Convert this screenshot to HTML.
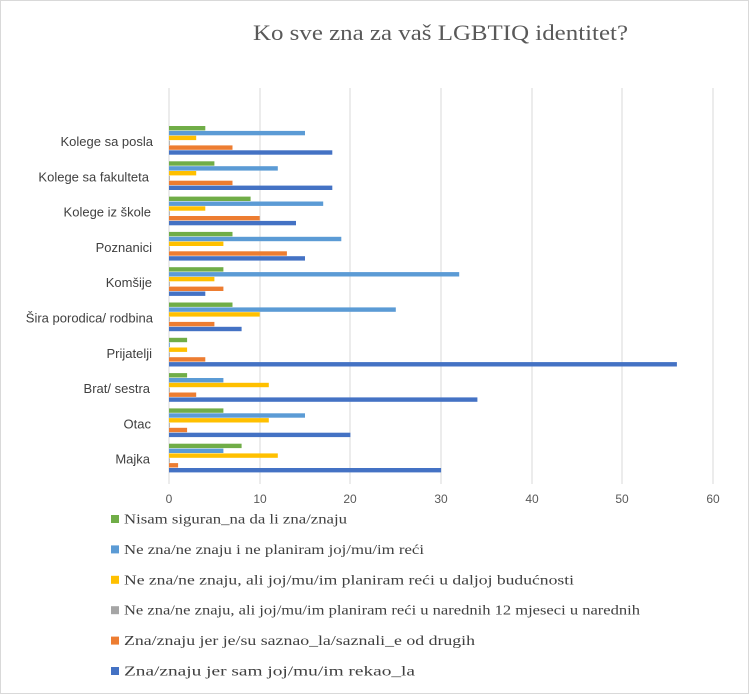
<!DOCTYPE html>
<html><head><meta charset="utf-8"><style>
body{margin:0;background:#fff}
svg{display:block;font-family:"Liberation Serif",serif}
.s{font-family:"Liberation Sans",sans-serif}
.g{fill:#70ad47}.b{fill:#5b9bd5}.y{fill:#ffc000}.a{fill:#a5a5a5}.o{fill:#ed7d31}.d{fill:#4472c4}
</style></head><body>
<svg width="749" height="694" xmlns="http://www.w3.org/2000/svg">
<rect x="0.5" y="0.5" width="748" height="693" fill="#fff" stroke="#d9d9d9"/>
<text x="253" y="40" font-size="22" fill="#595959" textLength="375" lengthAdjust="spacingAndGlyphs">Ko sve zna za vaš LGBTIQ identitet?</text>
<g stroke="#d9d9d9" stroke-width="1">
<line x1="169" y1="88" x2="169" y2="484"/><line x1="260" y1="88" x2="260" y2="484"/>
<line x1="350" y1="88" x2="350" y2="484"/><line x1="441" y1="88" x2="441" y2="484"/>
<line x1="532" y1="88" x2="532" y2="484"/><line x1="622" y1="88" x2="622" y2="484"/>
<line x1="713" y1="88" x2="713" y2="484"/>
</g>
<g class="s" font-size="12" fill="#595959" text-anchor="middle">
<text x="169" y="503">0</text><text x="260" y="503">10</text><text x="350" y="503">20</text>
<text x="441" y="503">30</text><text x="532" y="503">40</text><text x="622" y="503">50</text><text x="713" y="503">60</text>
</g>
<g>
<rect class="g" x="169" y="126" width="36.3" height="4.4"/><rect class="b" x="169" y="130.9" width="136" height="4.4"/><rect class="y" x="169" y="135.7" width="27.2" height="4.4"/><rect class="a" x="169" y="140.6" width="0.8" height="4.4"/><rect class="o" x="169" y="145.4" width="63.5" height="4.4"/><rect class="d" x="169" y="150.3" width="163.3" height="4.4"/>
<rect class="g" x="169" y="161.3" width="45.4" height="4.4"/><rect class="b" x="169" y="166.2" width="108.8" height="4.4"/><rect class="y" x="169" y="171" width="27.2" height="4.4"/><rect class="a" x="169" y="175.9" width="0.8" height="4.4"/><rect class="o" x="169" y="180.7" width="63.5" height="4.4"/><rect class="d" x="169" y="185.6" width="163.3" height="4.4"/>
<rect class="g" x="169" y="196.6" width="81.6" height="4.4"/><rect class="b" x="169" y="201.5" width="154.2" height="4.4"/><rect class="y" x="169" y="206.3" width="36.3" height="4.4"/><rect class="a" x="169" y="211.2" width="0.8" height="4.4"/><rect class="o" x="169" y="216" width="90.7" height="4.4"/><rect class="d" x="169" y="220.9" width="127" height="4.4"/>
<rect class="g" x="169" y="231.9" width="63.5" height="4.4"/><rect class="b" x="169" y="236.8" width="172.3" height="4.4"/><rect class="y" x="169" y="241.6" width="54.4" height="4.4"/><rect class="a" x="169" y="246.5" width="0.8" height="4.4"/><rect class="o" x="169" y="251.3" width="117.9" height="4.4"/><rect class="d" x="169" y="256.2" width="136" height="4.4"/>
<rect class="g" x="169" y="267.2" width="54.4" height="4.4"/><rect class="b" x="169" y="272.1" width="290.2" height="4.4"/><rect class="y" x="169" y="276.9" width="45.4" height="4.4"/><rect class="a" x="169" y="281.8" width="0.8" height="4.4"/><rect class="o" x="169" y="286.6" width="54.4" height="4.4"/><rect class="d" x="169" y="291.5" width="36.3" height="4.4"/>
<rect class="g" x="169" y="302.5" width="63.5" height="4.4"/><rect class="b" x="169" y="307.4" width="226.8" height="4.4"/><rect class="y" x="169" y="312.2" width="90.7" height="4.4"/><rect class="a" x="169" y="317.1" width="0.8" height="4.4"/><rect class="o" x="169" y="321.9" width="45.4" height="4.4"/><rect class="d" x="169" y="326.8" width="72.6" height="4.4"/>
<rect class="g" x="169" y="337.8" width="18.1" height="4.4"/><rect class="b" x="169" y="342.7" width="0.8" height="4.4"/><rect class="y" x="169" y="347.5" width="18.1" height="4.4"/><rect class="a" x="169" y="352.4" width="0.8" height="4.4"/><rect class="o" x="169" y="357.2" width="36.3" height="4.4"/><rect class="d" x="169" y="362.1" width="507.9" height="4.4"/>
<rect class="g" x="169" y="373.1" width="18.1" height="4.4"/><rect class="b" x="169" y="378" width="54.4" height="4.4"/><rect class="y" x="169" y="382.8" width="99.8" height="4.4"/><rect class="a" x="169" y="387.7" width="0.8" height="4.4"/><rect class="o" x="169" y="392.5" width="27.2" height="4.4"/><rect class="d" x="169" y="397.4" width="308.4" height="4.4"/>
<rect class="g" x="169" y="408.4" width="54.4" height="4.4"/><rect class="b" x="169" y="413.3" width="136" height="4.4"/><rect class="y" x="169" y="418.1" width="99.8" height="4.4"/><rect class="a" x="169" y="423" width="0.8" height="4.4"/><rect class="o" x="169" y="427.8" width="18.1" height="4.4"/><rect class="d" x="169" y="432.7" width="181.4" height="4.4"/>
<rect class="g" x="169" y="443.7" width="72.6" height="4.4"/><rect class="b" x="169" y="448.6" width="54.4" height="4.4"/><rect class="y" x="169" y="453.4" width="108.8" height="4.4"/><rect class="a" x="169" y="458.3" width="0.8" height="4.4"/><rect class="o" x="169" y="463.1" width="9.1" height="4.4"/><rect class="d" x="169" y="468" width="272.1" height="4.4"/>
</g>
<g class="s" font-size="13" fill="#404040" text-anchor="end">
<text x="153" y="146">Kolege sa posla</text>
<text x="149" y="181.3">Kolege sa fakulteta</text>
<text x="151" y="216.6">Kolege iz škole</text>
<text x="152" y="251.9">Poznanici</text>
<text x="152" y="287.2">Komšije</text>
<text x="153" y="322.5">Šira porodica/ rodbina</text>
<text x="152" y="357.8">Prijatelji</text>
<text x="150" y="393.1">Brat/ sestra</text>
<text x="151" y="428.4">Otac</text>
<text x="150" y="463.7">Majka</text>
</g>
<g font-size="14" fill="#404040">
<rect class="g" x="111" y="515" width="8" height="8"/><text x="124" y="523.5" textLength="223" lengthAdjust="spacingAndGlyphs">Nisam siguran_na da li zna/znaju</text>
<rect class="b" x="111" y="545.4" width="8" height="8"/><text x="124" y="553.9" textLength="300" lengthAdjust="spacingAndGlyphs">Ne zna/ne znaju i ne planiram joj/mu/im reći</text>
<rect class="y" x="111" y="575.8" width="8" height="8"/><text x="124" y="584.3" textLength="450" lengthAdjust="spacingAndGlyphs">Ne zna/ne znaju, ali joj/mu/im planiram reći u daljoj budućnosti</text>
<rect class="a" x="111" y="606.2" width="8" height="8"/><text x="124" y="614.7" textLength="516" lengthAdjust="spacingAndGlyphs">Ne zna/ne znaju, ali joj/mu/im planiram reći u narednih 12 mjeseci u narednih</text>
<rect class="o" x="111" y="636.6" width="8" height="8"/><text x="124" y="645.1" textLength="351" lengthAdjust="spacingAndGlyphs">Zna/znaju jer je/su saznao_la/saznali_e od drugih</text>
<rect class="d" x="111" y="667" width="8" height="8"/><text x="124" y="675.5" textLength="291" lengthAdjust="spacingAndGlyphs">Zna/znaju jer sam joj/mu/im rekao_la</text>
</g>
</svg>
</body></html>
